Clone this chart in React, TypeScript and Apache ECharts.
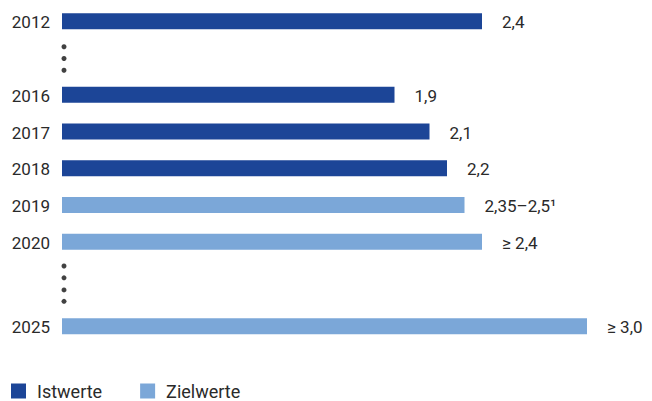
import React, { useEffect, useRef } from "react";
import * as echarts from "echarts";

// ---- data ----
const years = ["2012", "2016", "2017", "2018", "2019", "2020", "2025"];
const istwerte: (number | null)[] = [2.4, 1.9, 2.1, 2.2, null, null, null];
const zielwerte: (number | null)[] = [null, null, null, null, 2.3, 2.4, 3.0];
const valueLabels = ["2,4", "1,9", "2,1", "2,2", "2,35–2,5¹", "≥ 2,4", "≥ 3,0"];
const seriesNames = ["Istwerte", "Zielwerte"];

// ---- layout (row positions on the y axis, gap markers) ----
const rowPos = [0, 2, 3, 4, 5, 6, 8.3];
const gapDots = [0.69, 1.01, 1.33, 6.66, 6.98, 7.31, 7.62];

const DARK = "#1c4597";
const LIGHT = "#7ba7d8";
const TEXT = "#2a2a2a";
const FONT = "Roboto, 'Noto Sans', sans-serif";

function buildData(values: (number | null)[]) {
  const out: number[][] = [];
  values.forEach((v, i) => {
    if (v !== null) out.push([v, rowPos[i], i]);
  });
  return out;
}

function makeRender(color: string) {
  return (params: any, api: any) => {
    const v = api.value(0);
    const r = api.value(1);
    const idx = api.value(2);
    const start = api.coord([0, r]);
    const end = api.coord([v, r]);
    const h = 16;
    return {
      type: "group",
      children: [
        {
          type: "rect",
          shape: { x: start[0], y: start[1] - h / 2, width: end[0] - start[0], height: h },
          style: { fill: color },
        },
        {
          type: "text",
          style: {
            text: valueLabels[idx],
            x: end[0] + 20,
            y: end[1] + 1,
            align: "left",
            verticalAlign: "middle",
            fill: TEXT,
            fontSize: 17,
            fontFamily: FONT,
          },
        },
        {
          type: "text",
          style: {
            text: years[idx],
            x: start[0] - 12,
            y: start[1] + 1,
            align: "right",
            verticalAlign: "middle",
            fill: TEXT,
            fontSize: 17,
            fontFamily: FONT,
          },
        },
      ],
    };
  };
}

export default function App() {
  const ref = useRef<HTMLDivElement>(null);
  useEffect(() => {
    if (!ref.current) return;
    const chart = echarts.init(ref.current, null, { renderer: "svg" });
    chart.setOption({
      animation: false,
      backgroundColor: "#ffffff",
      grid: { left: 62, right: 65, top: 3, bottom: 49, containLabel: false },
      xAxis: { type: "value", min: 0, max: 3, show: false },
      yAxis: { type: "value", inverse: true, min: -0.5, max: 9, show: false },
      legend: {
        left: 11,
        top: 382,
        padding: 0,
        itemWidth: 15,
        itemHeight: 15,
        itemGap: 38,
        icon: "rect",
        textStyle: {
          fontSize: 18,
          color: TEXT,
          fontFamily: FONT,
          padding: [0, 0, 0, 6],
        },
        data: seriesNames,
      },
      series: [
        {
          name: seriesNames[0],
          type: "custom",
          itemStyle: { color: DARK },
          renderItem: makeRender(DARK),
          data: buildData(istwerte),
          clip: false,
        },
        {
          name: seriesNames[1],
          type: "custom",
          itemStyle: { color: LIGHT },
          renderItem: makeRender(LIGHT),
          data: buildData(zielwerte),
          clip: false,
        },
        {
          type: "scatter",
          symbol: "circle",
          symbolSize: 5,
          symbolOffset: [2, 0],
          itemStyle: { color: "#111111" },
          data: gapDots.map((d) => [0, d]),
          silent: true,
        },
      ],
    });
    return () => chart.dispose();
  }, []);
  return (
    <div
      ref={ref}
      style={{ position: "fixed", left: 0, top: 0, width: 652, height: 401 }}
    />
  );
}
